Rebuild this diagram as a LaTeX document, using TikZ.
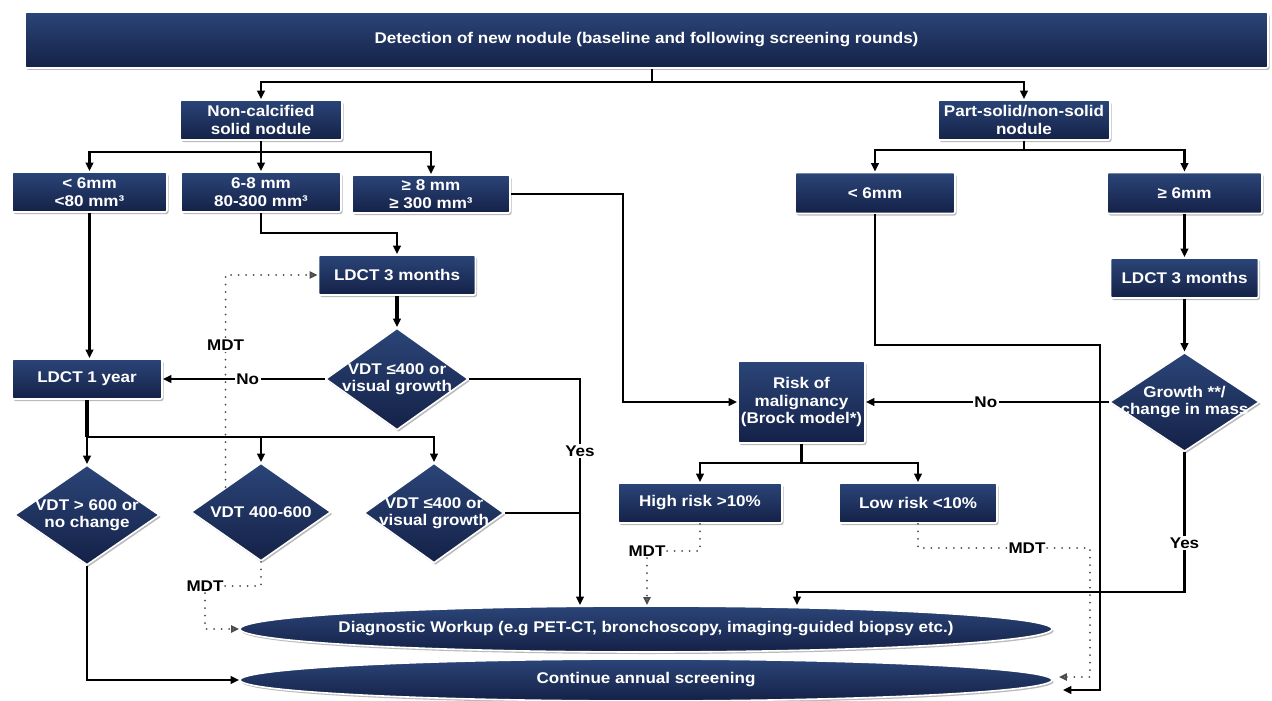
\documentclass[tikz,border=0pt]{standalone}
\usepackage{fontspec}
\setmainfont{Liberation Sans}[FakeStretch=1.1]
\usetikzlibrary{shapes.geometric,arrows.meta,shadows}
\definecolor{navyL}{HTML}{2B4578}
\definecolor{navyD}{HTML}{142147}
\begin{document}
\begin{tikzpicture}[x=1pt,y=-1pt,
  fnt/.style={font=\bfseries\fontsize{15.5}{17.5}\selectfont},
  navy/.style={top color=navyL, bottom color=navyD, draw=white, line width=1.6pt, text=white, fnt, align=center, inner sep=0pt,
     drop shadow={shadow xshift=1.5pt, shadow yshift=-2pt, opacity=0.45, fill=black!60}},
  box/.style 2 args={navy, rectangle, rounded corners=2pt, minimum width=#1, minimum height=#2},
  dia/.style 2 args={navy, diamond, minimum width=#1, minimum height=#2},
  ell/.style={navy, ellipse, minimum width=812pt, minimum height=#1},
  dtext/.style={text=white, fnt, align=center, inner sep=0pt},
  lbl/.style={text=black, fnt, fill=white, inner sep=1.5pt},
  ln/.style={draw=black, line width=2.1pt},
  arr/.style={ln, -{Triangle[length=8.5pt,width=7.5pt]}},
  thk/.style={line width=3.6pt},
  dot/.style={draw=black!70, line width=2pt, line cap=round, dash pattern=on 0pt off 7.5pt},
  oarr/.style={-{Triangle[open,length=8pt,width=7pt]}},
]
\fill[white] (0,0) rectangle (1272,701);
\useasboundingbox (0,0) rectangle (1272,701);

% nodes
\node[box={1243pt}{56pt}] (top) at (646.5,40) {\raisebox{4pt}{Detection of new nodule (baseline and following screening rounds)}};
\node[box={162pt}{40pt}] (nc) at (261,120) {Non-calcified\\solid nodule};
\node[box={172pt}{40pt}] (ps) at (1024,120) {Part-solid/non-solid\\nodule};
\node[box={155pt}{40pt}] (a1) at (89.5,192) {< 6mm\\<80 mm³};
\node[box={160pt}{40pt}] (a2) at (261,192) {6-8 mm\\80-300 mm³};
\node[box={158pt}{38pt}] (a3) at (431,194) {≥ 8 mm\\≥ 300 mm³};
\node[box={160pt}{41pt}] (b1) at (875,193) {< 6mm};
\node[box={155pt}{41pt}] (b2) at (1184.5,193) {≥ 6mm};
\node[box={157pt}{40pt}] (l3) at (397,275) {LDCT 3 months};
\node[box={148pt}{40pt}] (r3) at (1184.5,278) {LDCT 3 months};
\node[box={150pt}{40pt}] (l1) at (87,379) {LDCT 1 year};
\node[box={127pt}{82pt}] (risk) at (801.5,402) {Risk of\\malignancy\\(Brock model*)};
\node[box={164pt}{40pt}] (hi) at (700,503) {High risk >10\%};
\node[box={158pt}{40pt}] (lo) at (918,503) {Low risk <10\%};

\node[dia={143pt}{102pt}] (dv) at (397,379) {};
\node[dtext] (dvt) at (dv) {VDT ≤400 or\\visual growth};
\node[dia={150pt}{99pt}] (dg) at (1184.5,402) {};
\node[dtext] (dgt) at (dg) {Growth **/\\change in mass};
\node[dia={145pt}{100pt}] (d1) at (87,515) {};
\node[dtext] (d1t) at (d1) {VDT > 600 or\\no change};
\node[dia={140pt}{98pt}] (d2) at (261,512) {};
\node[dtext] (d2t) at (d2) {VDT 400-600};
\node[dia={140pt}{100pt}] (d3) at (434,513) {};
\node[dtext] (d3t) at (d3) {VDT ≤400 or\\visual growth};

\node[ell=46pt] (diag) at (646,629) {\makebox[0pt]{Diagnostic Workup (e.g PET-CT, bronchoscopy, imaging-guided biopsy etc.)}};
\node[ell=42pt] (cont) at (646,680) {\makebox[0pt]{Continue annual screening}};

% connectors
\coordinate (t1) at (652,82);
\draw[ln] (top.south -| t1) -- (t1);
\draw[arr] (t1) -| (nc.north);
\draw[arr] (t1) -| (ps.north);

\coordinate (j1) at (261,152);
\draw[ln] (nc.south) -- (j1);
\draw[arr] (j1) -| (a1.north);
\draw[arr] (j1) -- (a2.north);
\draw[arr] (j1) -| (a3.north);

\coordinate (j2) at (1024,150);
\draw[ln] (ps.south) -- (j2);
\draw[arr] (j2) -| (b1.north);
\draw[arr] (j2) -| (b2.north);

\draw[arr,thk] (a1.south) -- (a1.south |- l1.north);
\draw[arr] (a2.south) -- ++(0,20) -| (l3.north);
\coordinate (v1) at (623,0);
\draw[arr] (a3.east) -| (v1 |- risk.west) -- (risk.west);

\draw[arr,thk] (l3.south) -- (dv.north);
\draw[arr] (dv.west) -- node[lbl,pos=0.476] (no1) {No} (l1.east);
\coordinate (yx) at (580,0);
\draw[arr] (dv.east) -| node[lbl,pos=0.66] (yes1) {Yes} (yx |- diag.north);
\draw[ln] (d3.east) -- (d3.east -| yx);

\coordinate (j3) at (87,437);
\draw[ln,thk] (l1.south) -- (j3);
\draw[arr] (j3) -- (d1.north);
\draw[arr] (j3) -| (d2.north);
\draw[arr] (j3) -| (d3.north);

\draw[dot,oarr] (d2.north west) |- node[lbl,pos=0.335] (mdt1) {MDT} (l3.west);
\node[lbl] (mdt2) at (205,586) {MDT};
\draw[dot] (d2.south) |- (mdt2.east);
\draw[dot,oarr] (mdt2.south) |- (diag.west);
\draw[arr] (d1.south) |- (cont.west);

\coordinate (rv) at (1100,345);
\draw[arr] (b1.south) |- (rv) |- ([shift={(10,10)}]cont.east);

\node[lbl] (mdt4) at (1027,548) {MDT};
\draw[dot] (lo.south) |- (mdt4.west);
\coordinate (rd) at (1090,548);
\draw[dot,oarr] (mdt4.east) -- (rd) |- ([shift={(6,-3)}]cont.east);

\node[lbl] (mdt3) at (647,551) {MDT};
\draw[dot] (hi.south) |- (mdt3.east);
\draw[dot,oarr] (mdt3.south) -- (mdt3.south |- diag.north);

\coordinate (j4) at (801.5,463);
\draw[ln] (risk.south) -- (j4);
\draw[arr] (j4) -| (hi.north);
\draw[arr] (j4) -| (lo.north);

\draw[arr,thk] (b2.south) -- (r3.north);
\draw[arr] (r3.south) -- (dg.north);
\draw[arr] (dg.west) -- node[lbl,pos=0.506] (no2) {No} (risk.east);
\coordinate (yy) at (797,592);
\draw[arr] (dg.south) |- node[lbl,pos=0.325] (yes2) {Yes} (yy) -- (yy |- diag.north);
\end{tikzpicture}
\end{document}
